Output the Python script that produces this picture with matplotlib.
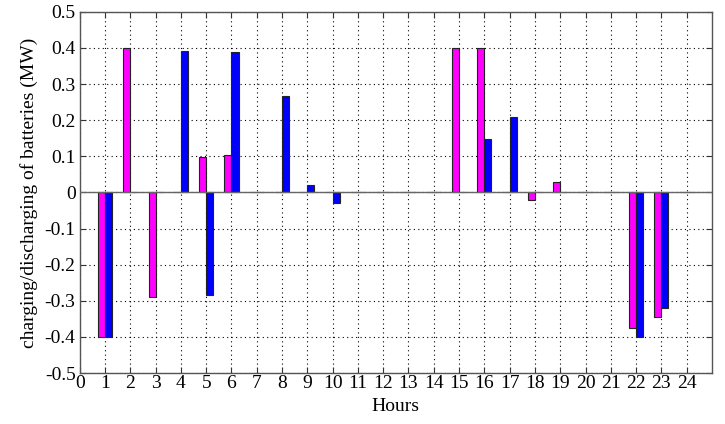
import numpy as np
import matplotlib
matplotlib.use("Agg")
import matplotlib.pyplot as plt

hours = list(range(1, 25))
series_a = [-0.40, 0.40, -0.29, 0.0, 0.098, 0.105, 0.0, 0.0, 0.0, 0.0, 0.0, 0.0,
            0.0, 0.0, 0.40, 0.40, 0.0, -0.021, 0.03, 0.0, 0.0, -0.375, -0.346, 0.0]
series_b = [-0.40, 0.0, 0.0, 0.393, -0.283, 0.39, 0.0, 0.268, 0.022, -0.028, 0.0, 0.0,
            0.0, 0.0, 0.0, 0.148, 0.21, 0.0, 0.0, 0.0, 0.0, -0.40, -0.321, 0.0]
xticks = list(range(0, 25))
yticks = [-0.5, -0.4, -0.3, -0.2, -0.1, 0, 0.1, 0.2, 0.3, 0.4, 0.5]
ytick_labels = ["-0.5", "-0.4", "-0.3", "-0.2", "-0.1", "0", "0.1", "0.2", "0.3", "0.4", "0.5"]

plt.rcParams['font.family'] = ['Liberation Serif', 'DejaVu Serif']

fig = plt.figure(figsize=(7.25, 4.24), dpi=100)
ax = fig.add_axes([0.110, 0.120, 0.872, 0.852])

w = 0.28
x = np.array(hours)
ax.bar(x - w, series_a, width=w, align='edge', color='#FF00FF', edgecolor='#222222', linewidth=0.8, zorder=3)
ax.bar(x, series_b, width=w, align='edge', color='#0000FF', edgecolor='#222222', linewidth=0.8, zorder=3)

ax.axhline(0, color='#666666', linewidth=1.0, zorder=4)

ax.set_xlim(0, 25)
ax.set_ylim(-0.5, 0.5)
ax.set_xticks(xticks)
ax.set_xticklabels([str(t) for t in xticks])
ax.set_yticks(yticks)
ax.set_yticklabels(ytick_labels)
ax.tick_params(direction='in', top=True, right=True, labelsize=14, length=4, width=0.8, color='#333333', pad=3)
ax.tick_params(axis='x', pad=1)
ax.grid(True, linestyle=(0, (1, 3)), color='black', linewidth=0.8, zorder=0)
for s in ax.spines.values():
    s.set_color('#555555')
    s.set_linewidth(1.0)

ax.set_xlabel('Hours', fontsize=14, labelpad=5)
ax.set_ylabel('charging/discharging of batteries (MW)', fontsize=14, labelpad=5)

fig.savefig('out.png', dpi=100)
